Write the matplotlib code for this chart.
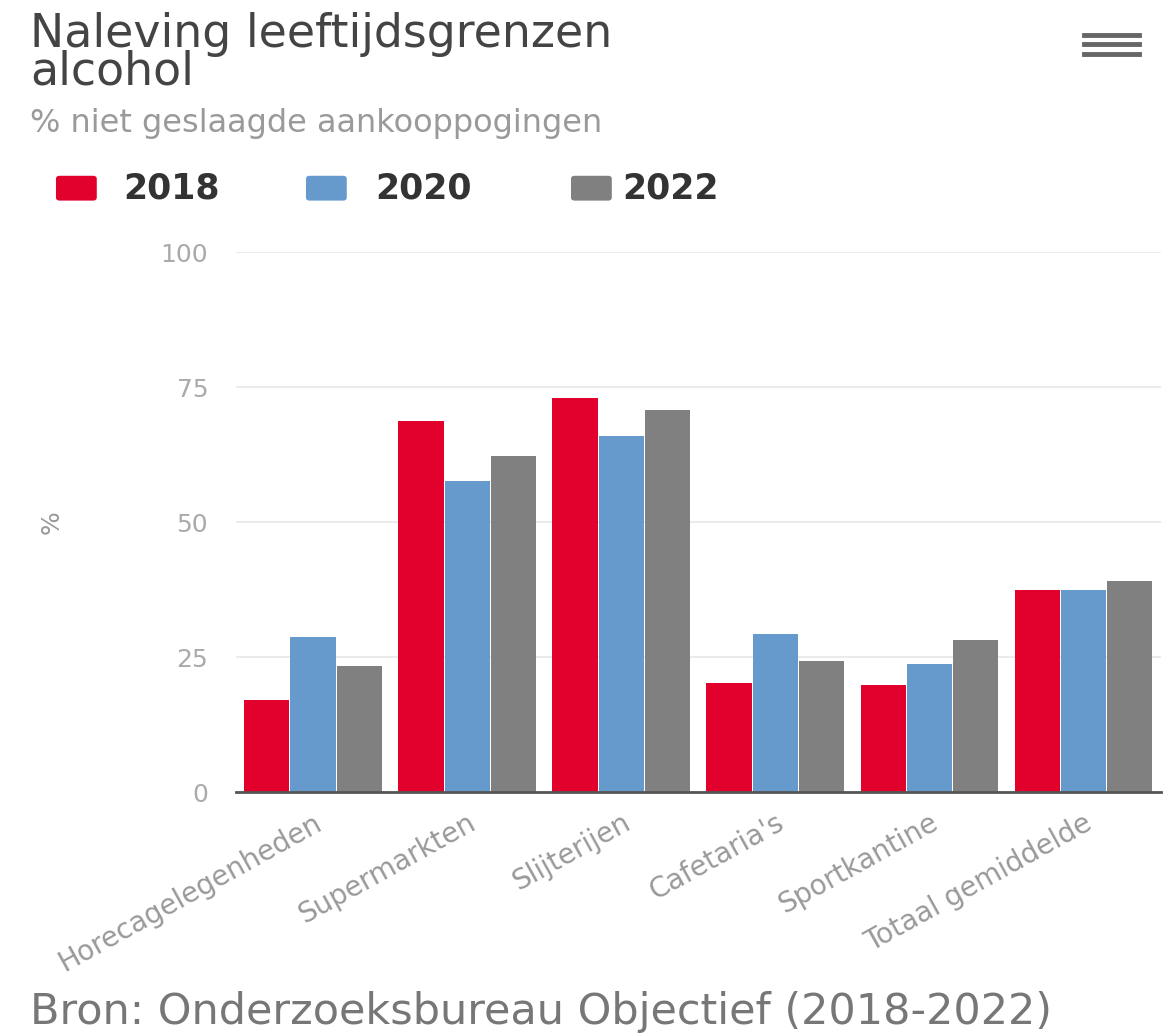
import numpy as np
import matplotlib
matplotlib.use("Agg")
import matplotlib.pyplot as plt
from matplotlib.patches import FancyBboxPatch

categories = ["Horecagelegenheden", "Supermarkten", "Slijterijen",
              "Cafetaria's", "Sportkantine", "Totaal gemiddelde"]
years = ["2018", "2020", "2022"]
values_2018 = [17.0, 68.7, 73.0, 20.2, 19.8, 37.4]
values_2020 = [28.7, 57.6, 65.9, 29.3, 23.7, 37.4]
values_2022 = [23.3, 62.2, 70.7, 24.3, 28.1, 39.1]
yticks = [0, 25, 50, 75, 100]

colors = ["#e2012d", "#6699cc", "#808080"]
series = [values_2018, values_2020, values_2022]

plt.rcParams["font.family"] = ["DejaVu Sans"]

fig = plt.figure(figsize=(11.66, 10.34), dpi=100)
ax = fig.add_axes([0.2024, 0.234, 0.793, 0.522])

x = np.arange(len(categories))
width = 0.3
for i, (vals, col) in enumerate(zip(series, colors)):
    ax.bar(x + (i - 1) * width, vals, width * 0.98, color=col, zorder=3)

ax.set_xlim(-0.5, len(categories) - 0.5)
ax.set_ylim(0, 100)
ax.set_yticks(yticks)
ax.set_yticklabels([str(t) for t in yticks], color="#aaaaaa", fontsize=18)
ax.set_xticks(x)
ax.set_xticklabels(categories, rotation=29, ha="right", rotation_mode="anchor",
                   color="#999999", fontsize=20)
ax.tick_params(axis="y", length=0, pad=20)
ax.tick_params(axis="x", length=0, pad=12)
ax.grid(axis="y", color="#e8e8e8", linewidth=1.2, zorder=0)
for s in ["top", "right", "left"]:
    ax.spines[s].set_visible(False)
ax.spines["bottom"].set_color("#555555")
ax.spines["bottom"].set_linewidth(2)
ax.spines["bottom"].set_zorder(4)
ax.set_ylabel("%", color="#999999", fontsize=18, labelpad=70)

# titles
fig.text(0.026, 0.988, "Naleving leeftijdsgrenzen\nalcohol", fontsize=33,
         color="#444444", va="top", ha="left", linespacing=0.78)
fig.text(0.026, 0.881, "% niet geslaagde aankooppogingen", fontsize=23,
         color="#9a9a9a", va="center", ha="left")

# legend
sq_x = [0.048, 0.2624, 0.4897]
txt_x = [0.1055, 0.3216, 0.534]
for sx, tx, col, yr in zip(sq_x, txt_x, colors, years):
    fig.patches.append(FancyBboxPatch((sx, 0.806), 0.035, 0.024,
                                      boxstyle="round,pad=0,rounding_size=0.003",
                                      transform=fig.transFigure,
                                      facecolor=col, edgecolor="none"))
    fig.text(tx, 0.818, yr, fontsize=25, fontweight="bold",
             color="#333333", va="center", ha="left")

# hamburger menu
for yy in [0.966, 0.957, 0.948]:
    fig.add_artist(plt.Line2D([0.93, 0.977], [yy, yy], transform=fig.transFigure,
                              color="#666666", linewidth=3.5))

fig.text(0.026, 0.021, "Bron: Onderzoeksbureau Objectief (2018-2022)", fontsize=31,
         color="#777777", va="center", ha="left")

fig.savefig("out.png", dpi=100, facecolor="white")
